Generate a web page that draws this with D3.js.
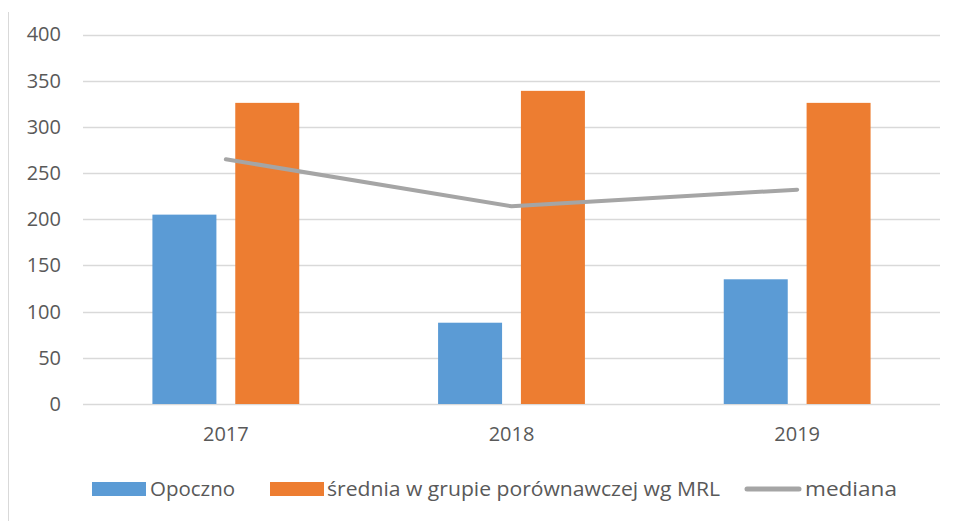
<!DOCTYPE html>
<meta charset="utf-8">
<title>Opoczno</title>
<body>
<script src="https://cdn.jsdelivr.net/npm/d3@7"></script>
<style>
html, body {
    margin: 0;
    background: #fff;
}
svg {
    display: block;
    font-family: "Open Sans", sans-serif;
}
</style>
<svg></svg>
<script>
var years = ["2017", "2018", "2019"],
    opoczno = [205, 88, 135],
    srednia = [326, 339, 326],
    mediana = [265, 214, 232],
    yTicks = [0, 50, 100, 150, 200, 250, 300, 350, 400];

var width = 955,
    height = 521,
    plotLeft = 83,
    plotRight = 940,
    plotTop = 34.5,
    plotBottom = 404;

var svg = d3.select("svg")
    .attr("width", width)
    .attr("height", height);

// frame line on the left
svg.append("line")
    .attr("x1", 8.5).attr("x2", 8.5)
    .attr("y1", 12).attr("y2", height)
    .attr("stroke", "#d9d9d9")
    .attr("stroke-width", 1);

var x = d3.scaleBand()
    .domain(years)
    .range([plotLeft, plotRight]);

var y = d3.scaleLinear()
    .domain([0, 400])
    .range([plotBottom, plotTop]);

var bw = x.bandwidth() * 0.224,
    gap = x.bandwidth() * 0.066;

// grid
svg.append("g")
    .selectAll("line")
    .data(yTicks)
    .enter().append("line")
    .attr("x1", plotLeft).attr("x2", plotRight)
    .attr("y1", function(d) { return Math.round(y(d)) + 0.5; })
    .attr("y2", function(d) { return Math.round(y(d)) + 0.5; })
    .attr("stroke", "#d9d9d9")
    .attr("stroke-width", 1.3);

var yAxis = d3.axisLeft(y).tickValues(yTicks).tickSize(0).tickPadding(0);
svg.append("g")
    .attr("transform", "translate(61,0)")
    .call(yAxis)
    .call(function(g) { g.select(".domain").remove(); })
    .selectAll("text")
    .attr("fill", "#595959")
    .style("font-size", "20px")
    .style("font-family", "Open Sans, sans-serif");

var xAxis = d3.axisBottom(x).tickSize(0).tickPadding(0);
svg.append("g")
    .attr("transform", "translate(0,427)")
    .call(xAxis)
    .call(function(g) { g.select(".domain").remove(); })
    .selectAll("text")
    .attr("fill", "#595959")
    .style("font-size", "20px")
    .style("font-family", "Open Sans, sans-serif");

function cx(d) { return x(d) + x.bandwidth() / 2; }

svg.append("g")
    .selectAll("rect")
    .data(years)
    .enter().append("rect")
    .attr("x", function(d) { return cx(d) - gap / 2 - bw; })
    .attr("y", function(d, i) { return y(opoczno[i]); })
    .attr("width", bw)
    .attr("height", function(d, i) { return plotBottom - y(opoczno[i]); })
    .attr("fill", "#5b9bd5");

svg.append("g")
    .selectAll("rect")
    .data(years)
    .enter().append("rect")
    .attr("x", function(d) { return cx(d) + gap / 2; })
    .attr("y", function(d, i) { return y(srednia[i]); })
    .attr("width", bw)
    .attr("height", function(d, i) { return plotBottom - y(srednia[i]); })
    .attr("fill", "#ed7d31");

var line = d3.line()
    .x(function(d, i) { return cx(years[i]); })
    .y(function(d) { return y(d); });

svg.append("path")
    .datum(mediana)
    .attr("d", line)
    .attr("fill", "none")
    .attr("stroke", "#a5a5a5")
    .attr("stroke-width", 4)
    .attr("stroke-linecap", "round")
    .attr("stroke-linejoin", "round");

// legend
var legend = [
    {name: "Opoczno", type: "rect", color: "#5b9bd5", sx: 92, tx: 150, tw: 85},
    {name: "średnia w grupie porównawczej wg MRL", type: "rect", color: "#ed7d31", sx: 270, tx: 327, tw: 393},
    {name: "mediana", type: "line", color: "#a5a5a5", sx: 745, tx: 805, tw: 92}
];

var lg = svg.append("g").attr("transform", "translate(0,489)");

lg.selectAll("rect")
    .data(legend.filter(function(d) { return d.type === "rect"; }))
    .enter().append("rect")
    .attr("x", function(d) { return d.sx; })
    .attr("y", -7)
    .attr("width", 54)
    .attr("height", 14)
    .attr("fill", function(d) { return d.color; });

lg.selectAll("line")
    .data(legend.filter(function(d) { return d.type === "line"; }))
    .enter().append("line")
    .attr("x1", function(d) { return d.sx + 2; })
    .attr("x2", function(d) { return d.sx + 54; })
    .attr("y1", 0).attr("y2", 0)
    .attr("stroke", function(d) { return d.color; })
    .attr("stroke-width", 5)
    .attr("stroke-linecap", "round");

lg.selectAll("text")
    .data(legend)
    .enter().append("text")
    .attr("x", function(d) { return d.tx; })
    .attr("dy", "0.35em")
    .attr("textLength", function(d) { return d.tw; })
    .attr("lengthAdjust", "spacingAndGlyphs")
    .attr("fill", "#595959")
    .style("font-size", "20px")
    .text(function(d) { return d.name; });
</script>
